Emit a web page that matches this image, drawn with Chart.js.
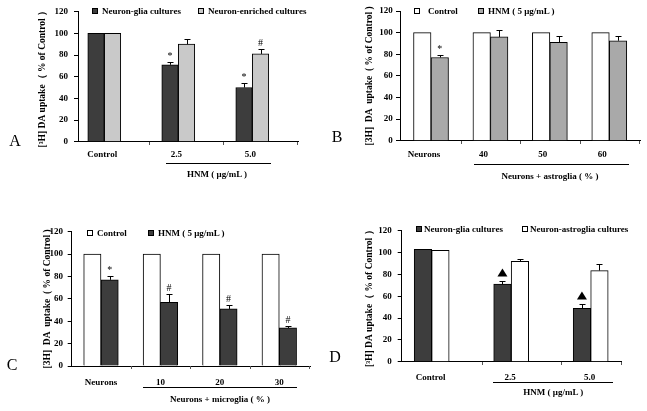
<!DOCTYPE html>
<html>
<head>
<meta charset="utf-8">
<script src="https://cdn.jsdelivr.net/npm/chart.js@4/dist/chart.umd.min.js"></script>
<style>
  body { margin: 0; background: #fff; }
  #fig { position: relative; width: 647px; height: 411px; overflow: hidden;
         font-family: 'Liberation Serif', 'Times New Roman', serif; color: #000; }
  #fig canvas { position: absolute; }
  .t { position: absolute; white-space: nowrap; transform: translate(-50%, -50%);
       font-weight: bold; font-size: 9px; line-height: 1; }
  .letter { position: absolute; transform: translate(-50%, -50%); font-size: 16px; line-height: 1; }
  .rule { position: absolute; height: 1.5px; background: #000; }
  .leg { position: absolute; white-space: nowrap; font-weight: bold; font-size: 9px;
         line-height: 1; transform: translateY(-50%); }
  .sq { position: absolute; width: 4px; height: 4px; border: 1px solid #000; transform: translateY(-50%); }
</style>
</head>
<body>
<div id="fig"></div>
<script>
// panel A
const catsA = ['Control', '2.5', '5.0'];
const gliaA = [100, 71, 50];
const gliaErrA = [0, 3, 4];
const gliaMarksA = ['', '*', '*'];
const enrichedA = [100, 90, 81];
const enrichedErrA = [0, 4.5, 4.5];
const enrichedMarksA = ['', '', '#'];

// panel B
const catsB = ['Neurons', '40', '50', '60'];
const controlB = [100, 100, 100, 100];
const hnmB = [77, 96, 91, 92.5];
const hnmErrB = [2.5, 6, 5.5, 4];
const hnmMarksB = ['*', '', '', ''];

// panel C
const catsC = ['Neurons', '10', '20', '30'];
const controlC = [100, 100, 100, 100];
const hnmC = [77, 57, 51, 34];
const hnmErrC = [3, 7, 3.5, 1.5];
const hnmMarksC = ['*', '#', '#', '#'];

// panel D
const catsD = ['Control', '2.5', '5.0'];
const gliaD = [103, 71, 49];
const gliaErrD = [0, 2.5, 3.5];
const gliaMarksD = ['', '▲', '▲'];
const astroD = [102, 92, 83.5];
const astroErrD = [0, 2, 6];

const yTicks = [0, 20, 40, 60, 80, 100, 120];

const DARK = '#3d3d3d', LIGHT = '#c9c9c9', GRAY = '#a9a9a9', WHITE = '#ffffff';
const fig = document.getElementById('fig');
const font = { family: "'Liberation Serif', 'Times New Roman', serif", size: 9, weight: 'bold' };

const errorBars = {
  id: 'errorBars',
  afterDatasetsDraw(chart) {
    const ctx = chart.ctx, ys = chart.scales.y;
    ctx.save();
    chart.data.datasets.forEach((ds, di) => {
      chart.getDatasetMeta(di).data.forEach((bar, i) => {
        const v = ds.data[i].y;
        const e = ds.errors ? ds.errors[i] : 0;
        const x = Math.round(bar.x) + 0.5;
        let top = bar.y;
        if (e) {
          top = ys.getPixelForValue(v + e);
          ctx.strokeStyle = '#000';
          ctx.lineWidth = 1;
          ctx.beginPath();
          ctx.moveTo(x, bar.y);
          ctx.lineTo(x, Math.round(top) + 0.5);
          ctx.moveTo(x - 3, Math.round(top) + 0.5);
          ctx.lineTo(x + 3, Math.round(top) + 0.5);
          ctx.stroke();
        }
        const m = ds.marks ? ds.marks[i] : '';
        if (m === '▲') {
          ctx.fillStyle = '#000';
          ctx.beginPath();
          ctx.moveTo(bar.x, top - 13);
          ctx.lineTo(bar.x - 5, top - 5);
          ctx.lineTo(bar.x + 5, top - 5);
          ctx.closePath();
          ctx.fill();
        } else if (m) {
          ctx.fillStyle = '#000';
          ctx.font = "10px 'Liberation Serif', serif";
          ctx.textAlign = 'center';
          ctx.textBaseline = 'alphabetic';
          ctx.fillText(m, bar.x, top - 3);
        }
      });
    });
    ctx.restore();
  }
};

// small tick marks between category groups, like the spreadsheet original
const catTicks = {
  id: 'catTicks',
  afterDraw(chart, args, opts) {
    const ctx = chart.ctx, xs = chart.scales.x, y0 = Math.round(chart.chartArea.bottom);
    const n = opts.count;
    ctx.save();
    ctx.strokeStyle = '#555';
    ctx.lineWidth = 1;
    ctx.beginPath();
    for (let i = 0; i < n - 1; i++) {
      const px = Math.round(xs.getPixelForValue(i + 0.5 + opts.shift)) + 0.5;
      ctx.moveTo(px, y0);
      ctx.lineTo(px, y0 + 3);
    }
    const pr = Math.round(chart.chartArea.right) - 0.5;
    ctx.moveTo(pr, y0);
    ctx.lineTo(pr, y0 + 3);
    ctx.stroke();
    ctx.restore();
  }
};

function makePanel(p) {
  const c = document.createElement('canvas');
  c.width = p.w; c.height = p.h;
  c.style.left = p.left + 'px';
  c.style.top = p.top + 'px';
  fig.appendChild(c);

  new Chart(c, {
    type: 'bar',
    data: {
      datasets: p.series.map(s => ({
        label: s.name,
        data: s.values.map((v, i) => ({ x: i, y: v })),
        errors: s.errs,
        marks: s.marks,
        backgroundColor: s.color,
        borderColor: '#000',
        borderWidth: 1,
        barThickness: p.barW
      }))
    },
    options: {
      responsive: false,
      animation: false,
      devicePixelRatio: 1,
      layout: { padding: { left: 0, top: p.padT, right: p.padR, bottom: p.padB } },
      plugins: {
        legend: { display: false },
        tooltip: { enabled: false },
        catTicks: { count: p.cats.length, shift: p.tickShift }
      },
      scales: {
        x: {
          type: 'linear', min: p.xMin, max: p.xMax, offset: false,
          afterBuildTicks: s => { s.ticks = p.cats.map((_, i) => ({ value: i })); },
          ticks: { stepSize: 1, font, color: '#000', padding: p.xPad, labelOffset: p.labOff,
                   autoSkip: false, maxRotation: 0, callback: v => p.cats[v] },
          grid: { display: false, drawTicks: false },
          border: { color: '#000', width: 1 },
          afterFit: s => { s.height = p.xH; }
        },
        y: {
          min: 0, max: 120,
          afterBuildTicks: s => { s.ticks = yTicks.map(v => ({ value: v })); },
          ticks: { font, color: '#000', padding: p.yPad },
          grid: { drawOnChartArea: false, tickLength: 4, color: '#000' },
          border: { color: '#000', width: 1 },
          title: { display: true, text: p.yTitle, color: '#000',
                   font: { family: font.family, size: 9.5, weight: 'bold' },
                   padding: { top: p.titleOff, bottom: 0 } },
          afterFit: s => { s.width = p.axisW; }
        }
      }
    },
    plugins: [errorBars, catTicks]
  });

  // legend
  p.series.forEach((s, k) => {
    const sq = document.createElement('div');
    sq.className = 'sq';
    sq.style.left = p.leg[k][0] + 'px';
    sq.style.top = p.legY + 'px';
    sq.style.background = s.color;
    fig.appendChild(sq);
    const tx = document.createElement('div');
    tx.className = 'leg';
    tx.style.left = p.leg[k][1] + 'px';
    tx.style.top = p.legY + 'px';
    tx.textContent = s.name;
    fig.appendChild(tx);
  });

  // grouping rule and axis caption
  const r = document.createElement('div');
  r.className = 'rule';
  r.style.left = p.rule[0] + 'px';
  r.style.width = (p.rule[1] - p.rule[0]) + 'px';
  r.style.top = p.rule[2] + 'px';
  fig.appendChild(r);

  const cap = document.createElement('div');
  cap.className = 't';
  cap.style.left = p.cap[0] + 'px';
  cap.style.top = p.cap[1] + 'px';
  cap.textContent = p.xTitle;
  fig.appendChild(cap);

  const L = document.createElement('div');
  L.className = 'letter';
  L.style.left = p.letter[1] + 'px';
  L.style.top = p.letter[2] + 'px';
  L.textContent = p.letter[0];
  fig.appendChild(L);
}

makePanel({
  left: 0, top: 0, w: 320, h: 200,
  axisW: 78, padR: 22, padT: 11.7, xH: 30, padB: 28.3,
  xMin: -0.355, xMax: 2.618, barW: 16.5,
  titleOff: 37.3, yPad: 6, xPad: 8, labOff: -2, tickShift: 0.1,
  cats: catsA,
  yTitle: '[³H] DA uptake（ % of Control ）',
  series: [
    { name: 'Neuron-glia cultures', values: gliaA, errs: gliaErrA, marks: gliaMarksA, color: DARK },
    { name: 'Neuron-enriched cultures', values: enrichedA, errs: enrichedErrA, marks: enrichedMarksA, color: LIGHT }
  ],
  legY: 11, leg: [[92, 102], [198, 208]],
  rule: [166, 271, 162.5], cap: [217, 174], xTitle: 'HNM ( μg/mL )',
  letter: ['A', 15, 141]
});

makePanel({
  left: 320, top: 0, w: 327, h: 200,
  axisW: 80, padR: 7, padT: 11, xH: 30, padB: 29.3,
  xMin: -0.522, xMax: 3.517, barW: 17.5,
  titleOff: 44.3, yPad: 3.3, xPad: 8.9, labOff: -7, tickShift: 0,
  cats: catsB,
  yTitle: '[3H]  DA  uptake  ( % of Control )',
  series: [
    { name: 'Control', values: controlB, errs: null, marks: null, color: WHITE },
    { name: 'HNM ( 5 μg/mL )', values: hnmB, errs: hnmErrB, marks: hnmMarksB, color: GRAY }
  ],
  legY: 11, leg: [[414, 428], [478, 488]],
  rule: [474, 629, 163.5], cap: [550, 176], xTitle: 'Neurons + astroglia ( %  )',
  letter: ['B', 337, 137]
});

makePanel({
  left: 0, top: 200, w: 320, h: 211,
  axisW: 71.7, padR: 10, padT: 31.7, xH: 25, padB: 20,
  xMin: -0.493, xMax: 3.517, barW: 17.3,
  titleOff: 42.3, yPad: 4.7, xPad: 11.3, labOff: 0, tickShift: 0,
  cats: catsC,
  yTitle: '[3H]  DA  uptake  ( % of Control )',
  series: [
    { name: 'Control', values: controlC, errs: null, marks: null, color: WHITE },
    { name: 'HNM ( 5 μg/mL )', values: hnmC, errs: hnmErrC, marks: hnmMarksC, color: DARK }
  ],
  legY: 233, leg: [[87, 97], [148, 158]],
  rule: [143, 297, 386.5], cap: [220, 399], xTitle: 'Neurons + microglia ( % )',
  letter: ['C', 12, 365]
});

makePanel({
  left: 320, top: 200, w: 327, h: 211,
  axisW: 81.7, padR: 25.3, padT: 30.7, xH: 25, padB: 24.3,
  xMin: -0.377, xMax: 2.39, barW: 17.5,
  titleOff: 44.3, yPad: 6, xPad: 10.2, labOff: -1, tickShift: 0.13,
  cats: catsD,
  yTitle: '[³H] DA uptake（ % of Control ）',
  series: [
    { name: 'Neuron-glia cultures', values: gliaD, errs: gliaErrD, marks: gliaMarksD, color: DARK },
    { name: 'Neuron-astroglia cultures', values: astroD, errs: astroErrD, marks: null, color: WHITE }
  ],
  legY: 229.3, leg: [[415.7, 424], [521.7, 530]],
  rule: [493.3, 612.7, 381.5], cap: [553.3, 392.3], xTitle: 'HNM ( μg/mL )',
  letter: ['D', 335, 356.7]
});
</script>
</body>
</html>
